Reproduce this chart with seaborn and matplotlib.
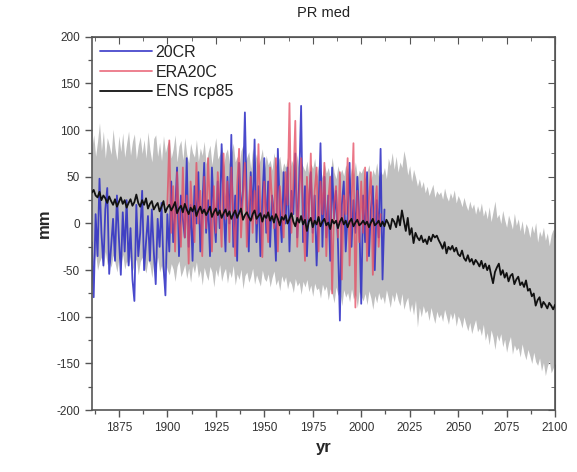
import numpy as np
import pandas as pd
import matplotlib
matplotlib.use("Agg")
import matplotlib.pyplot as plt
import seaborn as sns
from matplotlib.ticker import MultipleLocator

# ---------------- data ----------------
ens_start, ens_end = 1861, 2100
cr_start = 1861
era_start = 1900

ens_mean = [
    33, 36, 30, 28, 34, 25, 30, 27, 22, 29,
    24, 20, 26, 18, 23, 28, 21, 25, 17, 22,
    26, 19, 23, 31, 22, 18, 25, 20, 27, 16,
    21, 24, 15, 19, 22, 13, 18, 24, 12, 17,
    20, 14, 18, 23, 11, 16, 19, 12, 21, 15,
    10, 17, 13, 19, 8, 14, 18, 11, 15, 9,
    13, 18, 7, 12, 16, 9, 14, 6, 11, 15,
    8, 13, 5, 10, 14, 6, 11, 16, 4, 9,
    12, 7, 3, 10, 14, 5, 8, 11, 2, 9,
    6, 12, 3, 8, 1, 10, 5, -2, 7, 4,
    9, 0, 5, 11, 2, -3, 6, 1, 8, -1,
    4, -8, 2, 6, -4, 3, -1, 7, -3, 2,
    5, -2, 1, -6, 4, 0, 3, -5, 2, 6,
    -1, 3, -4, 2, 5, -3, 1, 4, -2, 0,
    3, -1, 2, -4, 1, 5, -2, 0, 3, -3,
    2, -3, 4, 0, -6, 5, 2, -4, 8, -2,
    14, 3, -8, 6, -12, -5, -21, -10, -15, -18,
    -13, -20, -17, -22, -14, -19, -12, -15, -13, -18,
    -22, -27, -20, -32, -25, -28, -24, -30, -26, -33,
    -35, -29, -37, -40, -34, -41, -38, -44, -39, -42,
    -46, -40, -48, -43, -50, -45, -55, -64, -52, -47,
    -43, -55, -50, -58, -53, -62, -56, -54, -65, -60,
    -57, -66, -63, -68, -61, -72, -70, -78, -75, -88,
    -82, -79, -90, -84, -87, -91, -85, -88, -92, -87,
]

ens_upper = [
    80, 95, 72, 88, 108, 78, 99, 70, 92, 84,
    74, 101, 81, 68, 94, 77, 97, 71, 86, 99,
    73, 88, 96, 69, 84, 93, 75, 90, 70, 98,
    79, 66, 91, 95, 72, 87, 67, 94, 76, 85,
    90, 70, 80, 95, 66, 83, 89, 68, 92, 74,
    65, 86, 76, 71, 90, 67, 81, 73, 88, 64,
    76, 84, 63, 79, 92, 69, 74, 82, 61, 75,
    80, 64, 76, 86, 66, 72, 60, 78, 84, 65,
    71, 77, 59, 81, 66, 75, 62, 70, 80, 58,
    73, 63, 68, 57, 76, 61, 67, 72, 55, 65,
    60, 71, 54, 68, 63, 57, 74, 53, 66, 61,
    56, 67, 52, 64, 59, 70, 51, 63, 57, 49,
    64, 54, 60, 50, 71, 55, 48, 62, 53, 58,
    51, 63, 56, 47, 60, 52, 66, 49, 57, 54,
    60, 48, 55, 63, 46, 58, 52, 65, 50, 56,
    52, 60, 48, 70, 62, 76, 58, 72, 55, 66,
    60, 78, 68, 52, 62, 45, 58, 50, 40, 48,
    38, 45, 33, 40, 30, 36, 42, 28, 35, 31,
    34, 26, 38, 29, 24, 33, 27, 36, 22, 30,
    25, 18, 28, 20, 14, 24, 16, 21, 10, 19,
    12, 22, 8, 15, 5, 18, 2, 13, 24, 6,
    10, 0, 14, 4, -4, 9, 2, -6, 11, -2,
    5, -8, 3, -12, 0, -5, -15, -2, -10, 1,
    -20, -8, -14, -4, -18, -10, -24, -12, -6, -16,
]

ens_lower = [
    -38, -45, -32, -50, -41, -36, -48, -30, -44, -39,
    -47, -34, -42, -52, -37, -45, -33, -49, -40, -46,
    -35, -51, -43, -38, -55, -41, -36, -47, -53, -39,
    -44, -58, -40, -48, -36, -52, -45, -60, -42, -50,
    -55, -43, -49, -62, -46, -40, -57, -51, -44, -59,
    -48, -63, -45, -53, -41, -58, -50, -66, -47, -55,
    -61, -46, -52, -68, -49, -57, -44, -62, -53, -48,
    -64, -51, -58, -45, -66, -54, -60, -49, -70, -56,
    -52, -63, -57, -48, -65, -55, -61, -67, -50, -59,
    -62, -54, -68, -58, -51, -66, -60, -72, -56, -63,
    -57, -70, -61, -65, -74, -59, -67, -63, -76, -62,
    -68, -60, -73, -66, -78, -64, -71, -69, -80, -65,
    -72, -67, -82, -70, -75, -85, -68, -77, -73, -88,
    -71, -79, -74, -84, -70, -81, -76, -90, -73, -78,
    -83, -75, -87, -72, -80, -92, -77, -85, -74, -82,
    -78, -86, -71, -80, -90, -76, -84, -73, -82, -88,
    -75, -92, -84, -79, -95, -86, -98, -82, -111, -90,
    -100, -88, -96, -93, -104, -90, -99, -107, -94, -101,
    -97, -105, -92, -100, -108, -96, -103, -95, -110, -99,
    -104, -112, -100, -108, -115, -106, -118, -110, -103, -116,
    -112, -120, -108, -125, -117, -130, -114, -122, -135, -119,
    -126, -118, -132, -124, -138, -128, -121, -140, -130, -136,
    -133, -143, -129, -139, -146, -135, -142, -150, -138, -148,
    -152, -144, -158, -149, -163, -153, -147, -160, -155, -150,
]

cr20 = [
    -20, -79, 10, -35, 48, -10, -45, 15, 38, -54,
    -25, 5, -40, 30, -15, -55, 12, -30, 25, -45,
    -5, -60, -83, 20, -35, -10, 35, -50, -20, 8,
    -40, 15, -30, -65, 5, -25, 22, -45, -77, 10,
    -30, 45, -20, 10, 60, -35, 30, 5, -15, 70,
    -25, 20, -40, 40, 0, 55, -30, 15, 65, -10,
    25, -35, 60, 10, -20, 45, -5, 85, 20, -30,
    50, 0, 95, -25, 30, -40, 65, 10, 35, 119,
    20, -30, 55, 5, 90, -20, 40, -35, 25, 70,
    -10, 45, -25, 30, 10, -40, 80, 15, -20, 55,
    0, 60, -30, 35, 10, 75, -15, 45, 126, -20,
    40, -35, 20, 55, -10, 30, -45, 15, 86, -25,
    50, -15, 30, -40, 60, 5, 35, -20, -104, 20,
    45, -30, 10, 65, -25, 25, -10, 50, 5, -86,
    30, -20, 55, -35, 15, 40, -50, 25, -15, 80,
    -60, 15,
]

era20c = [
    20, 89, -10, 40, -30, 55, 5, -25, 60, -15,
    30, -43, 45, 10, -20, 65, 0, 35, -35, 50,
    -5, 70, 15, -30, 40, -10, 55, 20, -25, 75,
    5, 45, -20, 60, 10, -35, 40, 80, -15, 30,
    65, -25, 20, 50, -10, 35, 0, 85, 15, -36,
    45, 10, -20, 60, 25, -5, 70, -30, 40, 15,
    -15, 55, 20, 129, -10, 45, 110, -25, 30, 70,
    15, -40, 50, 5, 75, -20, 35, 60, -30, 45,
    10, 65, -35, 25, 50, -75, 20, 40, -15, 55,
    -60, 30, 10, 70, -45, 20, 86, -90, 35, -20,
    45, -10, 60, -40, 25, 55, -55, 15, 40, -25, 10,
]

x_ticks = [1875, 1900, 1925, 1950, 1975, 2000, 2025, 2050, 2075, 2100]
y_ticks = [-200, -150, -100, -50, 0, 50, 100, 150, 200]

# ---------------- frames ----------------
ens_years = np.arange(ens_start, ens_start + len(ens_mean))
df_ens = pd.DataFrame({"yr": ens_years, "mean": ens_mean,
                       "lo": ens_lower, "hi": ens_upper})
df_cr = pd.DataFrame({"yr": np.arange(cr_start, cr_start + len(cr20)), "mm": cr20})
df_era = pd.DataFrame({"yr": np.arange(era_start, era_start + len(era20c)), "mm": era20c})

# ---------------- style ----------------
sns.set_style("ticks")
plt.rcParams["font.family"] = ["Liberation Sans", "DejaVu Sans"]
plt.rcParams["axes.unicode_minus"] = False

fig = plt.figure(figsize=(5.77, 4.72), dpi=100)
ax = fig.add_axes([0.159, 0.131, 0.803, 0.791])

ax.fill_between(df_ens["yr"], df_ens["lo"], df_ens["hi"],
                color="#c0c0c0", lw=0, zorder=1)
sns.lineplot(data=df_cr, x="yr", y="mm", ax=ax, color="#2a2ac4",
             lw=1.3, alpha=0.85, label="20CR", zorder=2)
sns.lineplot(data=df_era, x="yr", y="mm", ax=ax, color="#e5485f",
             lw=1.3, alpha=0.75, label="ERA20C", zorder=3)
sns.lineplot(data=df_ens, x="yr", y="mean", ax=ax, color="#111111",
             lw=1.3, label="ENS rcp85", zorder=4)

ax.set_xlim(1861, 2100)
ax.set_ylim(-200, 200)
ax.set_xticks(x_ticks)
ax.set_yticks(y_ticks)
ax.xaxis.set_minor_locator(MultipleLocator(12.5))
ax.yaxis.set_minor_locator(MultipleLocator(25))

axis_col = "#555555"
for sp in ax.spines.values():
    sp.set_visible(True)
    sp.set_color(axis_col)
    sp.set_linewidth(1.2)

ax.tick_params(which="major", direction="out", length=5, width=1.0,
               color=axis_col, labelsize=8.5, labelcolor="#333333")
ax.tick_params(which="minor", direction="out", length=3, width=0.9,
               color=axis_col)

secx = ax.secondary_xaxis("top")
secx.set_xticks(x_ticks)
secx.xaxis.set_minor_locator(MultipleLocator(12.5))
secx.tick_params(which="major", direction="in", length=5, color=axis_col, labeltop=False)
secx.tick_params(which="minor", direction="in", length=3, color=axis_col)
secx.spines["top"].set_color(axis_col)
secy = ax.secondary_yaxis("right")
secy.set_yticks(y_ticks)
secy.yaxis.set_minor_locator(MultipleLocator(25))
secy.tick_params(which="major", direction="in", length=5, color=axis_col, labelright=False)
secy.tick_params(which="minor", direction="in", length=3, color=axis_col)
secy.spines["right"].set_color(axis_col)

ax.set_xlabel("yr", fontsize=12, fontweight="bold", labelpad=4)
ax.set_ylabel("mm", fontsize=12, fontweight="bold", labelpad=3)
ax.set_title("PR med", fontsize=10.5, color="#222222", pad=14)

leg = ax.legend(loc="upper left", frameon=False, fontsize=11.5,
                handlelength=3.3, handletextpad=0.2, labelspacing=0.3,
                borderaxespad=0.1, bbox_to_anchor=(0.0, 1.0))
for t in leg.get_texts():
    t.set_color("#222222")

fig.savefig("out.png", dpi=100)
